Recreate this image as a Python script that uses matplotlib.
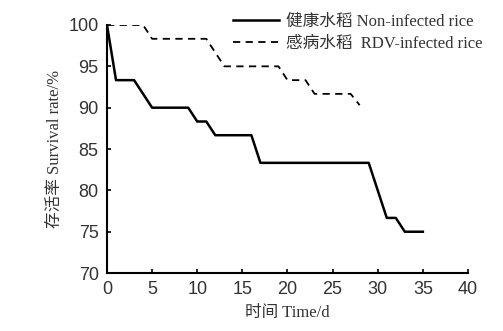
import matplotlib
matplotlib.use('Agg')
import matplotlib.pyplot as plt

# days and survival rates (%)
days_healthy = [0, 1, 2, 3, 4, 5, 6, 7, 8, 9, 10, 11, 12, 13, 14, 15, 16, 17,
                18, 19, 20, 21, 22, 23, 24, 25, 26, 27, 28, 29, 30, 31, 32, 33, 34, 35]
surv_healthy = [100, 93.33, 93.33, 93.33, 91.67, 90, 90, 90, 90, 90, 88.33, 88.33,
                86.67, 86.67, 86.67, 86.67, 86.67, 83.33, 83.33, 83.33, 83.33, 83.33,
                83.33, 83.33, 83.33, 83.33, 83.33, 83.33, 83.33, 83.33, 80, 76.67,
                76.67, 75, 75, 75]

days_rdv = [0, 1, 2, 3, 4, 5, 6, 7, 8, 9, 10, 11, 12, 13, 14, 15, 16, 17, 18,
            19, 20, 21, 22, 23, 24, 25, 26, 27, 28]
surv_rdv = [100, 100, 100, 100, 100, 98.33, 98.33, 98.33, 98.33, 98.33, 98.33, 98.33,
            96.67, 95, 95, 95, 95, 95, 95, 95, 93.33, 93.33, 93.33, 91.67, 91.67,
            91.67, 91.67, 91.67, 90.3]

label_healthy = '健康水稻 Non-infected rice'
label_rdv = '感病水稻  RDV-infected rice'

serif = ['Liberation Serif', 'Noto Sans CJK SC']

fig = plt.figure(figsize=(5.03, 3.31), dpi=100)
ax = fig.add_axes([0.2127, 0.175, 0.7177, 0.7495])

ax.plot(days_healthy, surv_healthy, color='black', linewidth=1.8, label=label_healthy)
ax.plot(days_rdv, surv_rdv, color='black', linewidth=1.3, linestyle=(0, (4, 3)),
        label=label_rdv)

ax.set_xlim(0, 40)
ax.set_ylim(70, 100)
ax.set_xticks(range(0, 41, 5))
ax.set_yticks(range(70, 101, 5))
ax.spines['top'].set_visible(False)
ax.spines['right'].set_visible(False)
for s in ['left', 'bottom']:
    ax.spines[s].set_linewidth(1.5)
ax.tick_params(direction='in', length=3, width=1.2, labelsize=13, pad=6)
for lab in ax.get_xticklabels() + ax.get_yticklabels():
    lab.set_family(['Liberation Sans', 'DejaVu Sans'])
    lab.set_color('#333333')

ax.set_xlabel('时间 Time/d', family=serif, fontsize=12, color='#333333', labelpad=5)
ax.set_ylabel('存活率 Survival rate/%', family=serif, fontsize=12, color='#333333',
              labelpad=4)

leg = ax.legend(loc='upper left', bbox_to_anchor=(0.33, 1.07), frameon=False,
                prop={'family': serif, 'size': 12}, handlelength=2.8,
                handletextpad=0.4, labelspacing=0.35, borderaxespad=0)
for t in leg.get_texts():
    t.set_color('#333333')

fig.savefig('out.png', dpi=100)
